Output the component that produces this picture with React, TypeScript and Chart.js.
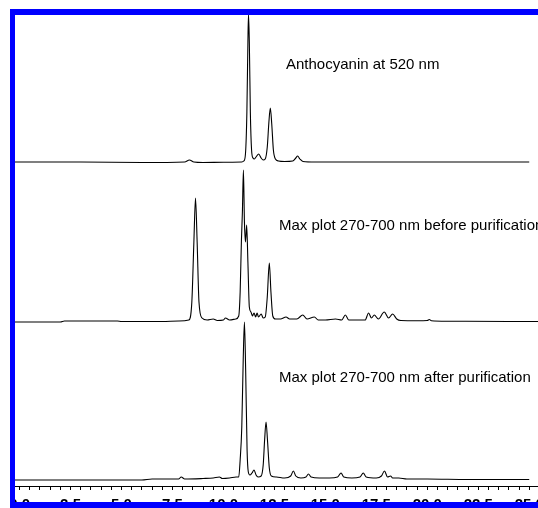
import React, { useEffect, useRef } from "react";
import { Chart, registerables } from "chart.js";

Chart.register(...registerables);

// Retention time (min) and detector response for each chromatogram
const anthoTime = [-1.5, 3.0, 6.0, 8.1, 8.33, 8.55, 9.0, 10.0, 10.9, 11.0, 11.08, 11.15, 11.2, 11.23, 11.27, 11.32, 11.38, 11.45, 11.52, 11.6, 11.73, 11.85, 11.95, 12.05, 12.15, 12.23, 12.3, 12.37, 12.45, 12.55, 12.7, 13.0, 13.4, 13.55, 13.64, 13.75, 13.9, 14.5, 17.0, 20.0, 25.0];
const anthoSignal = [0, 0, -0.5, 0, 2, 0, -0.5, -0.3, 0, 1, 8, 50, 120, 148, 120, 50, 12, 4, 3, 5, 8, 4, 2, 3, 15, 40, 54, 38, 12, 3, 1, 0.5, 1, 4, 6, 3, 0.5, 0, 0, 0, 0];

const beforeTime = [-1.5, 2.0, 2.2, 4.8, 5.0, 7.0, 7.8, 8.3, 8.45, 8.55, 8.63, 8.71, 8.8, 8.95, 9.2, 9.5, 9.7, 10.0, 10.1, 10.3, 10.6, 10.75, 10.82, 10.88, 10.93, 10.98, 11.03, 11.08, 11.14, 11.2, 11.27, 11.35, 11.42, 11.5, 11.58, 11.65, 11.72, 11.85, 11.95, 12.05, 12.15, 12.25, 12.33, 12.42, 12.55, 12.8, 13.07, 13.25, 13.6, 13.89, 14.1, 14.46, 14.65, 15.0, 15.5, 15.8, 15.98, 16.15, 16.5, 16.95, 17.12, 17.26, 17.4, 17.6, 17.89, 18.1, 18.3, 18.5, 18.7, 19.5, 20.0, 20.1, 20.2, 21.0, 24.0, 27.0];
const beforeSignal = [0, 0, 1, 1, 0.5, 0.5, 1, 2, 20, 80, 124, 80, 20, 4, 2, 3, 1.5, 2, 4, 2, 3, 6, 30, 80, 110, 152, 100, 80, 97, 60, 15, 10, 6, 9, 5, 9, 5, 8, 4, 5, 25, 59, 30, 6, 3, 3, 5, 3, 3, 7, 3, 5, 2, 2, 3, 2, 7, 2, 2, 2, 9, 4, 7, 3, 10, 4, 8, 3, 1.5, 1.3, 1.5, 2.5, 1.3, 0.8, 0.5, 0.5];

const afterTime = [-1.5, 6.0, 6.5, 7.8, 7.93, 8.1, 9.0, 9.5, 9.8, 9.95, 10.3, 10.62, 10.75, 10.82, 10.9, 10.97, 11.03, 11.09, 11.16, 11.22, 11.3, 11.4, 11.5, 11.6, 11.7, 11.85, 11.95, 12.02, 12.09, 12.16, 12.25, 12.35, 12.6, 13.0, 13.3, 13.43, 13.55, 13.8, 14.05, 14.17, 14.3, 14.7, 15.2, 15.6, 15.77, 15.9, 16.3, 16.7, 16.86, 17.0, 17.5, 17.75, 17.9, 18.05, 18.2, 18.3, 18.6, 19.0, 20.0, 22.0, 25.0];
const afterSignal = [0, 0, 1, 1, 3, 1, 1.5, 2, 3, 1.5, 2, 3, 3, 20, 53, 120, 158, 110, 30, 8, 5, 7, 10, 5, 3, 4, 15, 40, 58, 40, 12, 4, 3, 2, 4, 9, 4, 2, 3, 6, 3, 2, 2, 3, 7, 3, 2, 3, 7, 3, 2, 4, 9, 3, 4, 2, 2, 1, 1, 0.5, 0.5];

const tickValues = [0, 0.5, 1, 1.5, 2, 2.5, 3, 3.5, 4, 4.5, 5, 5.5, 6, 6.5, 7, 7.5, 8, 8.5, 9, 9.5, 10, 10.5, 11, 11.5, 12, 12.5, 13, 13.5, 14, 14.5, 15, 15.5, 16, 16.5, 17, 17.5, 18, 18.5, 19, 19.5, 20, 20.5, 21, 21.5, 22, 22.5, 23, 23.5, 24, 24.5, 25, 25.5, 26, 26.5];
const labelledTicks = [0, 2.5, 5, 7.5, 10, 12.5, 15, 17.5, 20, 22.5, 25];

const panelLabels = [
  "Anthocyanin at 520 nm",
  "Max plot 270-700 nm before purification",
  "Max plot 270-700 nm after purification",
];

const FONT = '"Liberation Sans", Arial, Helvetica, sans-serif';

function toPoints(t: number[], s: number[]) {
  return t.map((x, i) => ({ x, y: s[i] }));
}

export default function App() {
  const ref = useRef<HTMLCanvasElement | null>(null);

  useEffect(() => {
    if (!ref.current) return;
    const lineStyle = {
      borderColor: "#000",
      borderWidth: 1.1,
      pointRadius: 0,
      fill: false,
      clip: false as const,
      cubicInterpolationMode: "monotone" as const,
    };
    const chart = new Chart(ref.current, {
      type: "line",
      data: {
        datasets: [
          { ...lineStyle, data: toPoints(anthoTime, anthoSignal), yAxisID: "y1" },
          { ...lineStyle, data: toPoints(beforeTime, beforeSignal), yAxisID: "y2" },
          { ...lineStyle, data: toPoints(afterTime, afterSignal), yAxisID: "y3" },
        ],
      },
      options: {
        responsive: false,
        animation: false,
        devicePixelRatio: 1,
        layout: { padding: 0 },
        plugins: { legend: { display: false }, tooltip: { enabled: false } },
        scales: {
          x: {
            type: "linear",
            position: "bottom",
            min: -1.5,
            max: 27,
            afterBuildTicks: (scale: any) => {
              scale.ticks = tickValues.map((v) => ({ value: v }));
            },
            ticks: {
              autoSkip: false,
              maxRotation: 0,
              padding: 6,
              color: "#000",
              font: { family: FONT, size: 15, weight: "bold" },
              callback: (v: any) => (labelledTicks.includes(Number(v)) ? Number(v).toFixed(1) : ""),
            },
            grid: { drawOnChartArea: false, tickLength: 4, tickColor: "#000", tickWidth: 1 },
            border: { display: true, color: "#000", width: 1 },
          },
          y1: { type: "linear", position: "right", stack: "panels", stackWeight: 1, display: false, min: -10, max: 147 },
          y2: { type: "linear", position: "right", stack: "panels", stackWeight: 1, display: false, min: -7, max: 150 },
          y3: { type: "linear", position: "right", stack: "panels", stackWeight: 1, display: false, min: -6, max: 151 },
        },
      } as any,
    });
    return () => chart.destroy();
  }, []);

  const textStyle: React.CSSProperties = {
    position: "absolute",
    fontFamily: FONT,
    fontSize: 15,
    lineHeight: "15px",
    color: "#000",
    whiteSpace: "nowrap",
  };
  const blue = "#0000ff";

  return (
    <div style={{ position: "fixed", left: 0, top: 0, width: 538, height: 508, overflow: "hidden", background: "#fff" }}>
      <div style={{ position: "absolute", left: 15, top: 15, width: 523, height: 487, overflow: "hidden" }}>
        <canvas
          ref={ref}
          width={581}
          height={505}
          style={{ position: "absolute", left: -26, top: 0, width: 581, height: 505 }}
        />
      </div>
      <div style={{ ...textStyle, left: 286, top: 56 }}>{panelLabels[0]}</div>
      <div style={{ ...textStyle, left: 279, top: 217 }}>{panelLabels[1]}</div>
      <div style={{ ...textStyle, left: 279, top: 369 }}>{panelLabels[2]}</div>
      <div style={{ position: "absolute", left: 10, top: 9, width: 528, height: 6, background: blue }} />
      <div style={{ position: "absolute", left: 10, top: 9, width: 5, height: 499, background: blue }} />
      <div style={{ position: "absolute", left: 10, top: 502, width: 528, height: 6, background: blue }} />
    </div>
  );
}
